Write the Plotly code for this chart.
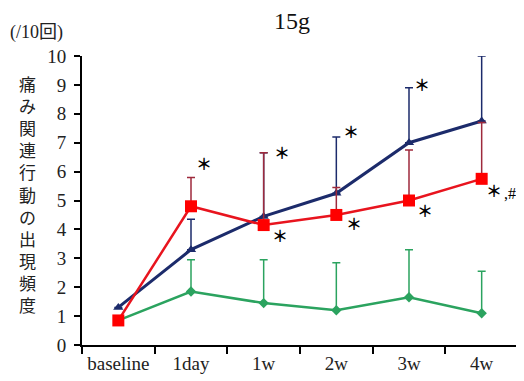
import plotly.graph_objects as go

categories = ["baseline", "1day", "1w", "2w", "3w", "4w"]
blue_mean = [1.3, 3.3, 4.45, 5.25, 7.0, 7.75]
blue_sd = [0.0, 1.05, 2.2, 1.95, 1.9, 2.25]
red_mean = [0.85, 4.8, 4.15, 4.5, 5.0, 5.75]
red_sd = [0.0, 1.0, 2.5, 0.95, 1.75, 1.95]
green_mean = [0.85, 1.85, 1.45, 1.2, 1.65, 1.1]
green_sd = [0.0, 1.1, 1.5, 1.65, 1.65, 1.45]
y_ticks = list(range(0, 11))

# significance marks: (category index, y value, label)
marks = [
    (1, 6.24, "＊"), (2, 6.62, "＊"), (2, 3.74, "＊"), (3, 7.35, "＊"),
    (3, 4.16, "＊"), (4, 8.98, "＊"), (4, 4.61, "＊"), (5, 10.05, "＊"),
    (5, 5.3, "＊"),
]
mark_shift = [13, 18, 16, 15, 18, 13, 16, 18, 12]
hash_mark = (5, 5.25, ",#")

SERIF = "Liberation Serif, Times New Roman, serif"
CJK = "Liberation Serif, Noto Sans CJK JP, serif"

fig = go.Figure()

def err(sd, color):
    return dict(type="data", array=sd, arrayminus=[0] * len(sd), symmetric=False,
                color=color, thickness=1.5, width=4, visible=True)

fig.add_trace(go.Scatter(
    x=categories, y=green_mean, mode="lines+markers",
    line=dict(color="#2BA35F", width=2.5),
    marker=dict(symbol="diamond", size=8, color="#2BA35F"),
    error_y=err(green_sd, "#2BA35F"), cliponaxis=False, showlegend=False))
fig.add_trace(go.Scatter(
    x=categories, y=blue_mean, mode="lines+markers",
    line=dict(color="#1C2B6B", width=3),
    marker=dict(symbol="triangle-up", size=9, color="#1C2B6B"),
    error_y=err(blue_sd, "#1C2B6B"), cliponaxis=False, showlegend=False))
fig.add_trace(go.Scatter(
    x=categories, y=red_mean, mode="lines+markers",
    line=dict(color="#E8141E", width=2.5),
    marker=dict(symbol="square", size=12, color="#FF0000"),
    error_y=err(red_sd, "#9E2A3C"), cliponaxis=False, showlegend=False))

annotations = []
for (i, yv, lab), sh in zip(marks, mark_shift):
    annotations.append(dict(x=categories[i], y=yv, xref="x", yref="y", text=lab,
                            showarrow=False, xshift=sh, xanchor="center", yanchor="middle",
                            font=dict(family="Liberation Serif, Noto Sans CJK JP", size=16,
                                      color="black", weight=700)))
annotations.append(dict(x=categories[hash_mark[0]], y=hash_mark[1], xref="x", yref="y",
                        text=hash_mark[2], showarrow=False, xshift=20, xanchor="left",
                        yanchor="middle",
                        font=dict(family=SERIF, size=16, color="black")))

annotations.append(dict(x=0.4817, y=1.12, xref="paper", yref="paper", text="15g",
                        showarrow=False, xanchor="center", yanchor="middle",
                        font=dict(family=SERIF, size=24, color="#111")))
annotations.append(dict(x=-0.1055, y=1.083, xref="paper", yref="paper", text="(/10回)",
                        showarrow=False, xanchor="center", yanchor="middle",
                        font=dict(family=CJK, size=18, color="#222")))
annotations.append(dict(x=-0.126, y=0.524, xref="paper", yref="paper",
                        text="<br>".join(list("痛み関連行動の出現頻度")),
                        showarrow=False, xanchor="center", yanchor="middle",
                        font=dict(family="Noto Sans CJK JP", size=17, color="#222")))

# the page body adds an 8px margin, so the figure is sized 8px smaller
fig.update_layout(
    width=516, height=373,
    margin=dict(l=74, r=6, t=48, b=36),
    paper_bgcolor="white", plot_bgcolor="white",
    annotations=annotations,
    xaxis=dict(type="category", range=[-0.5, 5.5], tickson="boundaries",
               ticks="outside", ticklen=7, tickwidth=2, tickcolor="black",
               showline=True, linewidth=2, linecolor="black", showgrid=False,
               zeroline=False, tickfont=dict(family=SERIF, size=19, color="#222")),
    yaxis=dict(range=[0, 10], tickvals=y_ticks, ticks="outside", ticklen=6,
               tickwidth=2, tickcolor="black", showline=True, linewidth=2,
               linecolor="black", showgrid=False, zeroline=False,
               ticklabelstandoff=4,
               tickfont=dict(family=SERIF, size=19, color="#222")),
)

fig.write_html("out.html")
